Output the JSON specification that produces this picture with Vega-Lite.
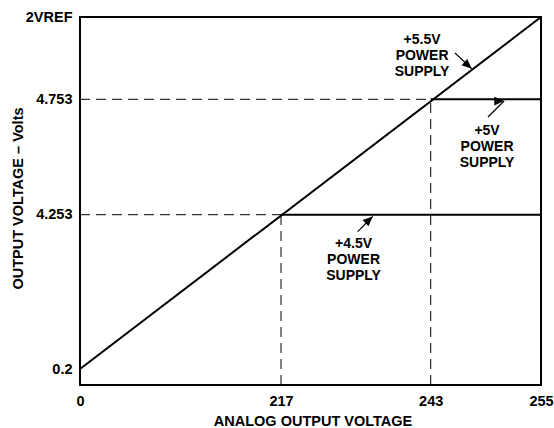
{
  "$schema": "https://vega.github.io/schema/vega-lite/v6.json",
  "width": 461,
  "height": 368,
  "autosize": "none",
  "padding": {"left": 80, "top": 17, "right": 13, "bottom": 43},
  "background": "white",
  "config": {
    "view": {"stroke": "black", "strokeWidth": 2},
    "axis": {
      "domain": false, "ticks": false, "tickSize": 0, "grid": false,
      "labelFont": "Liberation Sans", "labelFontSize": 14.5, "labelFontWeight": "bold", "labelColor": "black",
      "labelFlush": false, "labelOverlap": false, "labelBound": false,
      "titleFont": "Liberation Sans", "titleFontSize": 14.5, "titleFontWeight": "bold", "titleColor": "black"
    },
    "text": {"font": "Liberation Sans", "fontSize": 14, "fontWeight": "bold", "color": "black"}
  },
  "datasets": {
    "transfer": [
      {"series": "+5.5V", "x": 0, "y": 0.2, "x2": 255, "y2": 5},
      {"series": "+5V", "x": 243, "y": 4.753, "x2": 255, "y2": 4.753},
      {"series": "+4.5V", "x": 217, "y": 4.253, "x2": 255, "y2": 4.253}
    ],
    "guides": [
      {"x": 0, "y": 4.253, "x2": 217, "y2": 4.253},
      {"x": 217, "y": 0, "x2": 217, "y2": 4.253},
      {"x": 0, "y": 4.753, "x2": 243, "y2": 4.753},
      {"x": 243, "y": 0, "x2": 243, "y2": 4.753}
    ],
    "arrows": [
      {"arrow": "+5.5V", "x": 245.64, "y": 4.892, "x2": 247.46, "y2": 4.845},
      {"arrow": "+5V", "x": 249.23, "y": 4.6763, "x2": 250.98, "y2": 4.7456},
      {"arrow": "+4.5V", "x": 230.32, "y": 3.8064, "x2": 232.93, "y2": 4.2057}
    ],
    "labels": [
      {"text": "+5.5V|POWER|SUPPLY", "x": 241.5, "y": 4.9295},
      {"text": "+5V|POWER|SUPPLY", "x": 249.13, "y": 4.6156},
      {"text": "+4.5V|POWER|SUPPLY", "x": 229.6, "y": 3.4833}
    ]
  },
  "encoding": {
    "x": {
      "field": "x", "type": "quantitative",
      "scale": {"domain": [0, 217, 243, 255], "range": [0, 201, 350.7, 461], "nice": false, "zero": false},
      "axis": {
        "title": "ANALOG OUTPUT VOLTAGE", "values": [0, 217, 243, 255],
        "labelBaseline": "alphabetic", "labelPadding": 20,
        "titleBaseline": "alphabetic", "titleY": 40, "titleX": 232.5
      }
    },
    "y": {
      "field": "y", "type": "quantitative",
      "scale": {"domain": [0, 0.2, 4.253, 4.753, 5], "range": [368, 352, 197.7, 82.3, 0], "nice": false, "zero": false},
      "axis": {
        "title": "OUTPUT VOLTAGE – Volts", "values": [0.2, 4.253, 4.753, 5],
        "labelExpr": "datum.value == 5 ? '2VREF' : '' + datum.value",
        "labelPadding": 8,
        "titleX": -62, "titleY": 181, "titleAngle": -90, "titleAlign": "center", "titleBaseline": "middle"
      }
    }
  },
  "layer": [
    {
      "data": {"name": "guides"},
      "mark": {"type": "rule", "color": "black", "strokeWidth": 1, "strokeDash": [10, 6]},
      "encoding": {"x2": {"field": "x2"}, "y2": {"field": "y2"}}
    },
    {
      "data": {"name": "transfer"},
      "mark": {"type": "rule", "color": "black", "strokeWidth": 2},
      "encoding": {"x2": {"field": "x2"}, "y2": {"field": "y2"}}
    },
    {
      "data": {"name": "arrows"},
      "mark": {"type": "rule", "color": "black", "strokeWidth": 1.2},
      "encoding": {"x2": {"field": "x2"}, "y2": {"field": "y2"}}
    },
    {
      "data": {"name": "arrows"},
      "mark": {"type": "point", "shape": "M0,0L-0.7,1.6L0.7,1.6Z", "filled": true, "color": "black", "size": 150, "opacity": 1},
      "encoding": {
        "x": {"field": "x2", "type": "quantitative"},
        "y": {"field": "y2", "type": "quantitative"},
        "angle": {"field": "arrow", "type": "nominal", "scale": {"domain": ["+5.5V", "+5V", "+4.5V"], "range": [132, 47, 45]}, "legend": null}
      }
    },
    {
      "data": {"name": "labels"},
      "mark": {"type": "text", "align": "center", "baseline": "middle", "lineBreak": "|", "lineHeight": 16},
      "encoding": {"text": {"field": "text"}}
    }
  ]
}
